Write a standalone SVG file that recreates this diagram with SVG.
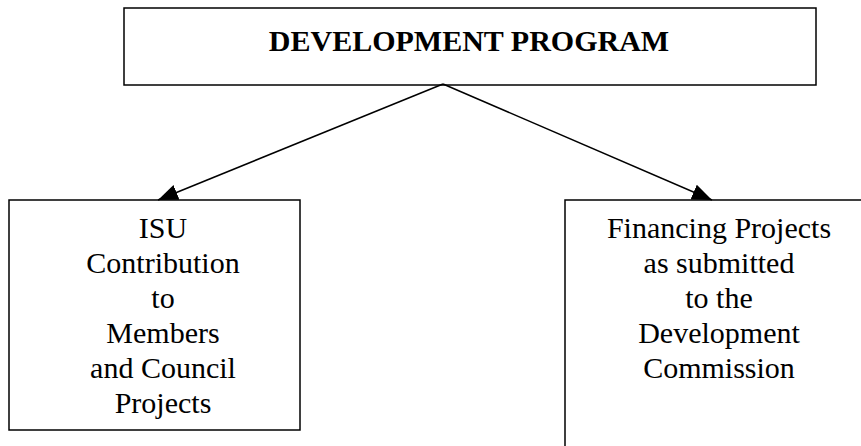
<svg xmlns="http://www.w3.org/2000/svg" width="861" height="446" viewBox="0 0 861 446">
<style>
.box{fill:none;stroke:#000;stroke-width:1.5}
.t{font-family:"Liberation Serif","Times New Roman",serif;font-size:30px;text-anchor:middle;fill:#000}
.h{font-family:"Liberation Serif","Times New Roman",serif;font-size:30px;font-weight:bold;text-anchor:middle;fill:#000}
.c{stroke:#000;stroke-width:1.5;fill:none}
</style>
<defs>
<marker id="ah" markerWidth="20" markerHeight="16" refX="20" refY="8" orient="auto" markerUnits="userSpaceOnUse">
<path d="M0,0 L20,8 L0,16 Z" fill="#000"/>
</marker>
</defs>
<g id="connectors">
<line class="c" x1="443" y1="84" x2="158" y2="200" marker-end="url(#ah)"/>
<line class="c" x1="443" y1="84" x2="712" y2="200" marker-end="url(#ah)"/>
</g>
<g id="top">
<rect class="box" x="124" y="8" width="692" height="77"/>
<text class="h" x="469" y="51">DEVELOPMENT PROGRAM</text>
</g>
<g id="left">
<rect class="box" x="9" y="200" width="291" height="230"/>
<text class="t" x="163" y="238">ISU</text>
<text class="t" x="163" y="273">Contribution</text>
<text class="t" x="163" y="308">to</text>
<text class="t" x="163" y="343">Members</text>
<text class="t" x="163" y="378">and Council</text>
<text class="t" x="163" y="413">Projects</text>
</g>
<g id="right">
<rect class="box" x="565" y="200" width="310" height="260"/>
<text class="t" x="719" y="238">Financing Projects</text>
<text class="t" x="719" y="273">as submitted</text>
<text class="t" x="719" y="308">to the</text>
<text class="t" x="719" y="343">Development</text>
<text class="t" x="719" y="378">Commission</text>
</g>
</svg>
